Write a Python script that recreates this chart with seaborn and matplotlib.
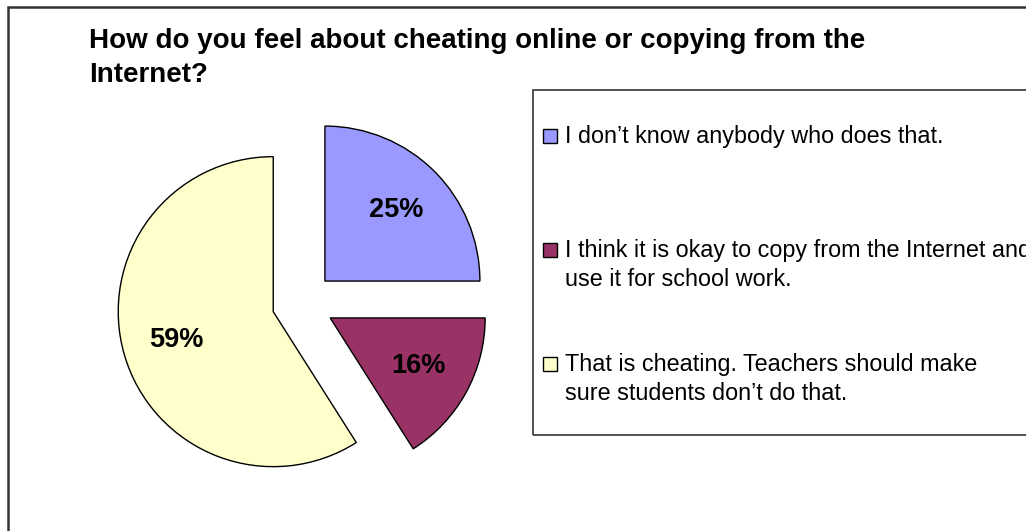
import matplotlib
matplotlib.use("Agg")
import matplotlib.pyplot as plt
import seaborn as sns
from matplotlib.patches import Rectangle

# ---- data ----
categories = [
    "I don\u2019t know anybody who does that.",
    "I think it is okay to copy from the Internet and\nuse it for school work.",
    "That is cheating. Teachers should make\nsure students don\u2019t do that.",
]
values = [25, 16, 59]
colors = ["#9999FF", "#993366", "#FFFFCC"]
title_lines = ["How do you feel about cheating online or copying from the", "Internet?"]

sns.set_theme(style="white")
plt.rcParams['font.family'] = ['Liberation Sans', 'DejaVu Sans']

W, H = 1026, 531
fig = plt.figure(figsize=(W / 100, H / 100), dpi=100)
fig.patch.set_facecolor("white")


def fx(px):
    return px / W


def fy(py):
    return 1 - py / H


# outer chart-area frame (runs off the right and bottom edges)
fig.add_artist(Rectangle((fx(8), -0.1), 1.2, fy(6.5) + 0.1, transform=fig.transFigure,
                         fill=False, edgecolor="#333333", linewidth=1.8))

# title
for i, line in enumerate(title_lines):
    fig.text(fx(89), fy(48 + 34 * i), line, fontsize=20, fontweight="bold",
             color="black", va="baseline", ha="left")

# pie
R_PX = 155
LIM = 1.3
side = 2 * LIM * R_PX
cx, cy = 303, 303
ax = fig.add_axes([fx(cx - side / 2), (H - cy - side / 2) / H, side / W, side / H])
wedges, texts, autotexts = ax.pie(
    values, colors=colors, explode=[0.2] * len(values), startangle=90, counterclock=False,
    autopct=lambda p: f"{p:.0f}%", pctdistance=0.65,
    wedgeprops=dict(edgecolor="black", linewidth=1),
    textprops=dict(fontsize=19.5, fontweight="bold", color="black"),
)
ax.set_xlim(-LIM, LIM)
ax.set_ylim(-LIM, LIM)
ax.set_aspect("equal")
ax.axis("off")

# legend box (runs off the right edge)
fig.add_artist(Rectangle((fx(533), fy(435)), 1.0, (435 - 90) / H, transform=fig.transFigure,
                         fill=False, edgecolor="#333333", linewidth=1.2))
first_baseline = 143
entry_step = 114
line_step = 29.5
for i, (lab, col) in enumerate(zip(categories, colors)):
    b = first_baseline + entry_step * i
    fig.add_artist(Rectangle((fx(542.5), fy(b)), 14 / W, 14 / H, transform=fig.transFigure,
                             facecolor=col, edgecolor="black", linewidth=1))
    for j, part in enumerate(lab.split("\n")):
        fig.text(fx(565), fy(b + line_step * j), part, fontsize=16.8, color="black",
                 va="baseline", ha="left")

fig.savefig("out.png", dpi=100)
